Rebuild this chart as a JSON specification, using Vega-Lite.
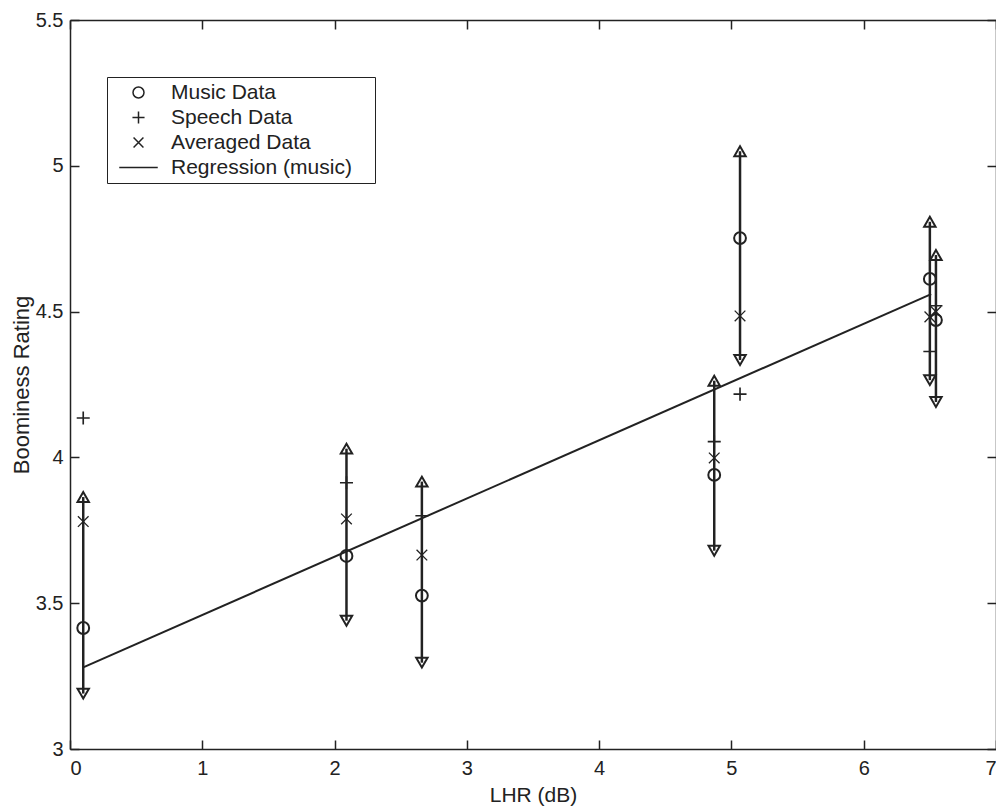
{
  "$schema": "https://vega.github.io/schema/vega-lite/v6.json",
  "autosize": {"type": "none"},
  "padding": {"left": 70, "top": 20, "right": 0, "bottom": 60},
  "width": 926,
  "height": 729,
  "background": "white",
  "config": {
    "font": "Liberation Sans",
    "view": {"stroke": null},
    "axis": {
      "grid": false,
      "domainColor": "#222",
      "domainWidth": 1.5,
      "tickColor": "#222",
      "tickWidth": 1.5,
      "tickSize": -9,
      "labelColor": "#222",
      "labelFontSize": 20,
      "titleColor": "#222",
      "titleFontSize": 21,
      "titleFontWeight": "normal"
    }
  },
  "datasets": {
    "music": [
      {"x": 0.1, "y": 3.415, "lo": 3.19, "hi": 3.864},
      {"x": 2.09, "y": 3.662, "lo": 3.44, "hi": 4.03},
      {"x": 2.66, "y": 3.526, "lo": 3.296, "hi": 3.917},
      {"x": 4.87, "y": 3.94, "lo": 3.68, "hi": 4.263},
      {"x": 5.065, "y": 4.752, "lo": 4.334, "hi": 5.05},
      {"x": 6.5, "y": 4.612, "lo": 4.265, "hi": 4.808},
      {"x": 6.546, "y": 4.471, "lo": 4.19, "hi": 4.694}
    ],
    "points": [
      {"x": 0.1, "y": 3.415, "series": "Music Data"},
      {"x": 2.09, "y": 3.662, "series": "Music Data"},
      {"x": 2.66, "y": 3.526, "series": "Music Data"},
      {"x": 4.87, "y": 3.94, "series": "Music Data"},
      {"x": 5.065, "y": 4.752, "series": "Music Data"},
      {"x": 6.5, "y": 4.612, "series": "Music Data"},
      {"x": 6.546, "y": 4.471, "series": "Music Data"},
      {"x": 0.1, "y": 4.135, "series": "Speech Data"},
      {"x": 2.09, "y": 3.913, "series": "Speech Data"},
      {"x": 2.66, "y": 3.8, "series": "Speech Data"},
      {"x": 4.87, "y": 4.054, "series": "Speech Data"},
      {"x": 5.065, "y": 4.217, "series": "Speech Data"},
      {"x": 6.5, "y": 4.363, "series": "Speech Data"},
      {"x": 6.546, "y": 4.52, "series": "Speech Data"},
      {"x": 0.1, "y": 3.78, "series": "Averaged Data"},
      {"x": 2.09, "y": 3.789, "series": "Averaged Data"},
      {"x": 2.66, "y": 3.665, "series": "Averaged Data"},
      {"x": 4.87, "y": 3.998, "series": "Averaged Data"},
      {"x": 5.065, "y": 4.485, "series": "Averaged Data"},
      {"x": 6.5, "y": 4.482, "series": "Averaged Data"},
      {"x": 6.546, "y": 4.5, "series": "Averaged Data"}
    ],
    "regression": [
      {"x": 0.1, "y": 3.28},
      {"x": 6.51, "y": 4.56}
    ]
  },
  "layer": [
    {
      "data": {"name": "music"},
      "mark": {"type": "rule", "stroke": "#222", "strokeWidth": 2.5},
      "encoding": {
        "x": {
          "field": "x", "type": "quantitative",
          "scale": {"domain": [0, 7], "nice": false, "zero": false},
          "axis": {"values": [0, 1, 2, 3, 4, 5, 6, 7], "title": "LHR (dB)", "labelPadding": 18, "titlePadding": 6}
        },
        "y": {
          "field": "lo", "type": "quantitative",
          "scale": {"domain": [3, 5.5], "nice": false, "zero": false},
          "axis": {"values": [3, 3.5, 4, 4.5, 5, 5.5], "format": "~g", "title": "Boominess Rating", "labelPadding": 16, "titlePadding": 2, "titleFontSize": 22}
        },
        "y2": {"field": "hi"}
      }
    },
    {
      "data": {"name": "music"},
      "mark": {"type": "point", "shape": "triangle-up", "filled": false, "stroke": "#222", "strokeWidth": 2, "size": 130, "opacity": 1},
      "encoding": {
        "x": {"field": "x", "type": "quantitative", "axis": null},
        "y": {"field": "hi", "type": "quantitative", "axis": null}
      }
    },
    {
      "data": {"name": "music"},
      "mark": {"type": "point", "shape": "triangle-down", "filled": false, "stroke": "#222", "strokeWidth": 2, "size": 130, "opacity": 1},
      "encoding": {
        "x": {"field": "x", "type": "quantitative", "axis": null},
        "y": {"field": "lo", "type": "quantitative", "axis": null}
      }
    },
    {
      "data": {"name": "regression"},
      "mark": {"type": "line", "stroke": "#222", "strokeWidth": 2},
      "encoding": {
        "x": {"field": "x", "type": "quantitative", "axis": {"orient": "top", "values": [0, 1, 2, 3, 4, 5, 6, 7], "labels": false, "title": null}},
        "y": {"field": "y", "type": "quantitative", "axis": {"orient": "right", "values": [3, 3.5, 4, 4.5, 5, 5.5], "labels": false, "title": null}}
      }
    },
    {
      "data": {"name": "points"},
      "mark": {"type": "point", "filled": false, "stroke": "#222", "size": 140, "opacity": 1},
      "encoding": {
        "x": {"field": "x", "type": "quantitative", "axis": null},
        "y": {"field": "y", "type": "quantitative", "axis": null},
        "strokeWidth": {
          "field": "series", "type": "nominal",
          "scale": {"domain": ["Music Data", "Speech Data", "Averaged Data"], "range": [2, 1.3, 1.8]},
          "legend": null
        },
        "shape": {
          "field": "series", "type": "nominal",
          "scale": {
            "domain": ["Music Data", "Speech Data", "Averaged Data", "Regression (music)"],
            "range": ["circle", "M -1.1 0 L 1.1 0 M 0 -1.1 L 0 1.1", "M -0.9 -0.9 L 0.9 0.9 M -0.9 0.9 L 0.9 -0.9", "M -3.5 0 L 3.5 0 M 41.5 0"]
          },
          "legend": {
            "title": null,
            "orient": "none",
            "legendX": 37,
            "legendY": 57,
            "strokeColor": "#222",
            "fillColor": "white",
            "padding": 5,
            "symbolSize": 121,
            "symbolStrokeWidth": 1.5,
            "symbolStrokeColor": "#222",
            "symbolFillColor": "transparent",
            "symbolOffset": 16,
            "labelOffset": 22,
            "labelFontSize": 21,
            "labelColor": "#222",
            "labelLimit": 400,
            "rowPadding": 3
          }
        }
      }
    }
  ],
  "resolve": {"axis": {"x": "independent", "y": "independent"}}
}
